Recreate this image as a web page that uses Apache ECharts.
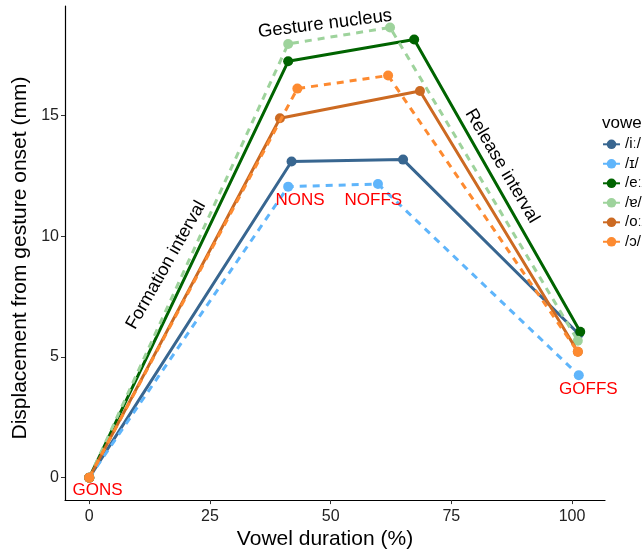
<!DOCTYPE html>
<html><head><meta charset="utf-8">
<script src="https://cdn.jsdelivr.net/npm/echarts@6/dist/echarts.min.js"></script>
<style>html,body{margin:0;padding:0;background:#fff}#c{width:642px;height:555px}</style>
</head><body><div id="c"></div>
<script>
const vowels = ['/iː/', '/ɪ/', '/eː/', '/ɐ/', '/oː/', '/ɔ/'];
const colors = ['#386690', '#5fb5fb', '#006400', '#9ed39c', '#cc6a22', '#fd8a30'];
const dashed = [false, true, false, true, false, true];
// x: vowel duration (%), y: displacement from gesture onset (mm)
const x_ii = [0, 41.9, 65.0, 101.4];
const y_ii = [0, 13.09, 13.17, 5.95];
const x_I  = [0, 41.2, 59.8, 101.4];
const y_I  = [0, 12.05, 12.16, 4.24];
const x_ee = [0, 41.2, 67.3, 101.7];
const y_ee = [0, 17.24, 18.14, 6.04];
const x_6  = [0, 41.2, 62.3, 101.2];
const y_6  = [0, 17.96, 18.64, 5.67];
const x_oo = [0, 39.5, 68.5, 101.2];
const y_oo = [0, 14.88, 16.01, 5.21];
const x_O  = [0, 43.1, 61.9, 101.2];
const y_O  = [0, 16.11, 16.65, 5.21];
const xs = [x_ii, x_I, x_ee, x_6, x_oo, x_O];
const ys = [y_ii, y_I, y_ee, y_6, y_oo, y_O];
const xTicks = [0, 25, 50, 75, 100];
const yTicks = [0, 5, 10, 15];
const annText = ['GONS', 'NONS', 'NOFFS', 'GOFFS', 'Gesture nucleus', 'Formation interval', 'Release interval'];
const annX = [1.7, 43.65, 58.84, 103.38, 48.84, 15.9, 85.5];
const annY = [-0.51, 11.47, 11.47, 3.67, 18.79, 8.8, 12.9];

const font = 'Liberation Sans, Arial, sans-serif';
const annColor = ['#ff0000', '#ff0000', '#ff0000', '#ff0000', '#000', '#000', '#000'];
const annRot = [0, 0, 0, 0, 7, 60.5, -59.5];
const annSize = [17, 17, 17, 17, 18.5, 18, 18];

const series = vowels.map((v, i) => ({
  name: v, type: 'line',
  data: xs[i].map((x, j) => [x, ys[i][j]]),
  symbol: 'circle', symbolSize: 10,
  itemStyle: { color: colors[i] },
  lineStyle: { color: colors[i], width: 3, type: dashed[i] ? [7, 6] : 'solid' },
  emphasis: { disabled: true },
  z: 2 + i
}));

const chart = echarts.init(document.getElementById('c'), null, { renderer: 'canvas' });
chart.setOption({
  animation: false,
  backgroundColor: '#fff',
  grid: { left: 65, right: 37, top: 6, bottom: 51.7, containLabel: false },
  title: { text: 'vowel', left: 597, top: 110, textStyle: { fontSize: 17, fontWeight: 'normal', color: '#000', fontFamily: font } },
  legend: {
    data: vowels, orient: 'vertical', left: 597, top: 131.8,
    itemWidth: 17, itemHeight: 12, itemGap: 4.5,
    textStyle: { fontSize: 15, color: '#000', fontFamily: font }
  },
  xAxis: {
    type: 'value', min: -5.03, max: 106.83,
    name: 'Vowel duration (%)', nameLocation: 'middle', nameGap: 27,
    nameTextStyle: { fontSize: 21, color: '#000', fontFamily: font, padding: [0, 20, 0, 0] },
    splitLine: { show: false },
    axisLine: { onZero: false, lineStyle: { color: '#000', width: 1.2 } },
    axisTick: { length: 4, lineStyle: { color: '#333' }, customValues: xTicks },
    axisLabel: { fontSize: 16, color: '#222', margin: 8, fontFamily: font, customValues: xTicks }
  },
  yAxis: {
    type: 'value', min: -0.93, max: 19.53,
    name: 'Displacement from gesture onset (mm)', nameLocation: 'middle', nameGap: 34,
    nameTextStyle: { fontSize: 21, color: '#000', fontFamily: font, padding: [0, 10, 0, 0] },
    splitLine: { show: false },
    axisLine: { onZero: false, lineStyle: { color: '#000', width: 1.2 } },
    axisTick: { length: 4, lineStyle: { color: '#333' }, customValues: yTicks },
    axisLabel: { fontSize: 16, color: '#222', margin: 6, fontFamily: font, customValues: yTicks }
  },
  series: series
});

const graphics = annText.map((t, i) => {
  const p = chart.convertToPixel({ xAxisIndex: 0, yAxisIndex: 0 }, [annX[i], annY[i]]);
  return {
    type: 'text', x: p[0], y: p[1], rotation: annRot[i] * Math.PI / 180, z: 50, silent: true,
    style: { text: t, fill: annColor[i], font: annSize[i] + 'px ' + font, align: 'center', verticalAlign: 'middle' }
  };
});
chart.setOption({ graphic: graphics });
</script></body></html>
